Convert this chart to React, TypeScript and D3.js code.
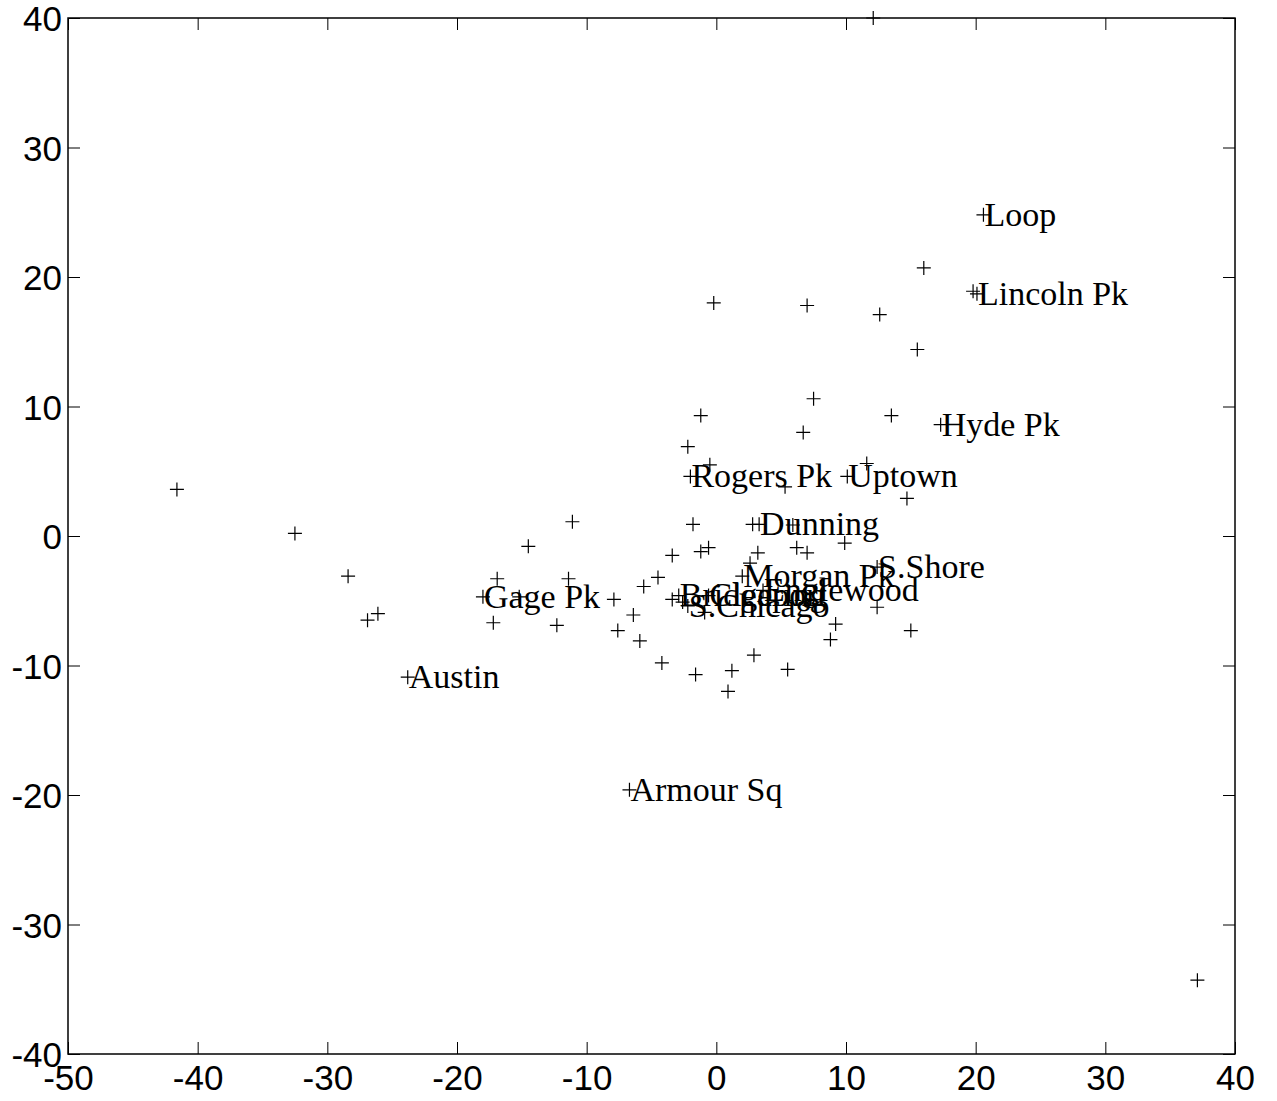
import React, { useEffect, useRef } from "react";
import * as d3 from "d3";

// axis ticks
const xTicks = [-50, -40, -30, -20, -10, 0, 10, 20, 30, 40];
const yTicks = [-40, -30, -20, -10, 0, 10, 20, 30, 40];

// scores on the first two components, one entry per community area
const pcX = [
  12.1, 20.6, 16.0, 19.8, 20.1, -0.2, 7.0, 12.6, 15.5, 7.5,
  -1.2, 13.5, 17.3, 6.7, -2.2, -0.5, -2.0, 5.3, 11.6, 10.1,
  14.7, -41.6, -32.5, -28.4, -26.1, -26.9, -23.8, -11.1, -14.5, -16.9,
  -18.0, -11.4, -15.2, -17.2, -12.3, -7.9, -5.6, -4.5, -6.4, -7.6,
  -5.9, -4.2, -1.6, -1.8, 2.8, 3.3, 5.9, 3.2, 6.2, 7.0,
  9.9, -3.4, -1.2, -0.6, 2.6, 12.4, 2.0, -3.4, -2.9, -2.6,
  -2.2, -0.6, 3.6, -0.9, 12.4, 15.0, 9.2, 8.8, 5.5, 2.9,
  1.2, 0.9, -6.7, 37.1,
];
const pcY = [
  40.0, 24.8, 20.7, 18.9, 18.7, 18.0, 17.8, 17.1, 14.4, 10.6,
  9.3, 9.3, 8.6, 8.0, 6.9, 5.5, 4.6, 3.8, 5.6, 4.6,
  2.9, 3.6, 0.2, -3.1, -6.0, -6.5, -10.9, 1.1, -0.8, -3.3,
  -4.7, -3.3, -4.7, -6.7, -6.9, -4.9, -3.9, -3.2, -6.1, -7.3,
  -8.1, -9.8, -10.7, 0.9, 0.9, 0.9, 0.85, -1.3, -0.9, -1.3,
  -0.55, -1.5, -1.2, -0.9, -2.1, -2.4, -3.1, -4.9, -4.6, -5.1,
  -5.4, -4.6, -4.2, -5.9, -5.5, -7.3, -6.8, -8.0, -10.3, -9.2,
  -10.4, -12.0, -19.6, -34.3,
];
const areaNames = [
  "", "Loop", "", "", "Lincoln Pk", "", "", "", "", "",
  "", "", "Hyde Pk", "", "", "", "Rogers Pk", "", "", "Uptown",
  "", "", "", "", "", "", "Austin", "", "", "",
  "Gage Pk", "", "", "", "", "", "", "", "", "",
  "", "", "", "", "", "Dunning", "", "", "", "",
  "", "", "", "", "", "S.Shore", "Morgan Pk", "", "Bridgeport", "",
  "S.Chicago", "Clearing", "Englewood", "", "", "", "", "", "", "",
  "", "", "Armour Sq", "",
];

const W = 1277;
const H = 1101;
const margin = { top: 18, right: 42, bottom: 47, left: 68 };

const App: React.FC = () => {
  const svgRef = useRef<SVGSVGElement>(null);

  useEffect(() => {
    if (svgRef.current === null) return;
    const svg = d3.select(svgRef.current);
    svg.selectAll("*").remove();

    const x = d3.scaleLinear().domain([-50, 40]).range([margin.left, W - margin.right]);
    const y = d3.scaleLinear().domain([-40, 40]).range([H - margin.bottom, margin.top]);

    const tickLen = 12;
    const axisFont = "'Liberation Sans Narrow', 'Liberation Sans', Arial, sans-serif";
    const fmt = (d: d3.NumberValue) => String(d);

    // bottom axis with labels, top axis ticks only
    const bottom = svg
      .append("g")
      .attr("transform", `translate(0, ${y(-40)})`)
      .call(d3.axisBottom(x).tickValues(xTicks).tickSize(-tickLen).tickPadding(11).tickFormat(fmt));
    const top = svg
      .append("g")
      .attr("transform", `translate(0, ${y(40)})`)
      .call(d3.axisTop(x).tickValues(xTicks).tickSize(-tickLen).tickFormat(() => ""));
    const left = svg
      .append("g")
      .attr("transform", `translate(${x(-50)}, 0)`)
      .call(d3.axisLeft(y).tickValues(yTicks).tickSize(-tickLen).tickPadding(6).tickFormat(fmt));
    const right = svg
      .append("g")
      .attr("transform", `translate(${x(40)}, 0)`)
      .call(d3.axisRight(y).tickValues(yTicks).tickSize(-tickLen).tickFormat(() => ""));

    [bottom, top, left, right].forEach((g) => {
      g.select(".domain").remove();
      g.selectAll(".tick line").attr("stroke", "#000").attr("stroke-width", 1);
      g.selectAll(".tick text")
        .attr("fill", "#000")
        .style("font-family", axisFont)
        .style("font-size", "35px");
    });
    bottom.selectAll(".tick text").attr("dy", "0.72em");
    left.selectAll(".tick text").attr("dy", "0.36em");

    // box
    svg
      .append("rect")
      .attr("x", x(-50))
      .attr("y", y(40))
      .attr("width", x(40) - x(-50))
      .attr("height", y(-40) - y(40))
      .attr("fill", "none")
      .attr("stroke", "#000")
      .attr("stroke-width", 1.5);

    const pts = pcX.map((v, i) => ({ x: v, y: pcY[i], name: areaNames[i] }));
    const arm = 7;

    svg
      .append("g")
      .selectAll("path")
      .data(pts)
      .enter()
      .append("path")
      .attr("d", (d) => {
        const px = x(d.x);
        const py = y(d.y);
        return `M${px - arm},${py}H${px + arm}M${px},${py - arm}V${py + arm}`;
      })
      .attr("stroke", "#000")
      .attr("stroke-width", 1.2)
      .attr("fill", "none");

    svg
      .append("g")
      .selectAll("text")
      .data(pts.filter((d) => d.name !== ""))
      .enter()
      .append("text")
      .attr("x", (d) => x(d.x) + 1)
      .attr("y", (d) => y(d.y))
      .attr("dy", "0.32em")
      .style("font-family", "'Liberation Serif', 'Times New Roman', serif")
      .style("font-size", "34px")
      .attr("fill", "#000")
      .text((d) => d.name);
  }, []);

  return (
    <svg
      ref={svgRef}
      width={W}
      height={H}
      style={{ position: "absolute", left: 0, top: 0, background: "#fff" }}
    />
  );
};

export default App;
